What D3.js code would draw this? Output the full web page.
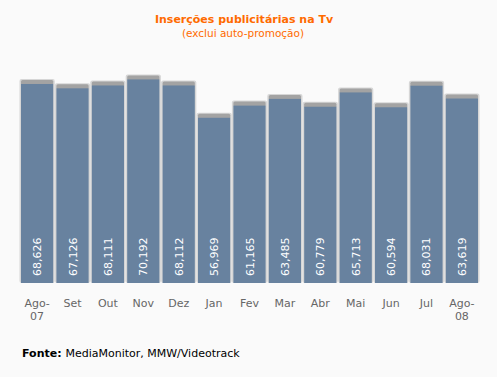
<!DOCTYPE html>
<html>
<head>
<meta charset="utf-8">
<script src="https://cdn.jsdelivr.net/npm/d3@7"></script>
<style>
  body { margin: 0; background: #fafafa; }
  svg { display: block; font-family: "DejaVu Sans", Verdana, sans-serif; }
</style>
</head>
<body>
<svg id="chart" width="497" height="377"></svg>
<script>
// Inserções publicitárias na Tv — valores mensais
const months = ["Ago-07", "Set", "Out", "Nov", "Dez", "Jan", "Fev", "Mar", "Abr", "Mai", "Jun", "Jul", "Ago-08"];
const values = [68626, 67126, 68111, 70192, 68112, 56969, 61165, 63485, 60779, 65713, 60594, 68031, 63619];

const svg = d3.select("#chart");

const x = d3.scaleBand()
  .domain(months)
  .range([20.3, 478.7])
  .paddingInner(0.09)
  .paddingOuter(0.02);

const y = d3.scaleLinear()
  .domain([0, 80000])
  .range([283, 51]);

const fmt = d3.format(",");

const g = svg.append("g");

// contorno claro à volta das barras
g.selectAll(".halo")
  .data(values)
  .enter()
  .append("rect")
  .attr("x", (d, i) => x(months[i]) - 1.5)
  .attr("y", d => y(d) - 5)
  .attr("width", x.bandwidth() + 3)
  .attr("height", d => y(0) - y(d) + 5)
  .attr("rx", 2)
  .attr("fill", "#d6d6d6");

// topo cinzento (sombra)
g.selectAll(".cap")
  .data(values)
  .enter()
  .append("rect")
  .attr("x", (d, i) => x(months[i]))
  .attr("y", d => y(d) - 4)
  .attr("width", x.bandwidth())
  .attr("height", 5)
  .attr("rx", 1.5)
  .attr("fill", "#a3a3a3");

// barras
g.selectAll(".bar")
  .data(values)
  .enter()
  .append("rect")
  .attr("class", "bar")
  .attr("x", (d, i) => x(months[i]))
  .attr("y", d => y(d))
  .attr("width", x.bandwidth())
  .attr("height", d => y(0) - y(d))
  .attr("fill", "#68829f");

// valores dentro das barras (verticais)
g.selectAll(".val")
  .data(values)
  .enter()
  .append("text")
  .attr("transform", (d, i) => `translate(${x(months[i]) + x.bandwidth() / 2 + 4},276) rotate(-90)`)
  .attr("fill", "#ffffff")
  .style("font-size", "11px")
  .text(d => fmt(d));

// eixo x
const xAxis = g.append("g")
  .attr("transform", "translate(0,290)")
  .call(d3.axisBottom(x).tickSize(0).tickFormat(""));
xAxis.select(".domain").remove();

g.selectAll(".xlab")
  .data(months)
  .enter()
  .append("text")
  .attr("x", d => x(d) + x.bandwidth() / 2)
  .attr("y", 307)
  .attr("text-anchor", "middle")
  .attr("fill", "#666")
  .style("font-size", "11px")
  .each(function (d) {
    const parts = d.includes("-") ? [d.slice(0, 4), d.slice(4)] : [d];
    d3.select(this).selectAll("tspan")
      .data(parts)
      .enter()
      .append("tspan")
      .attr("x", x(d) + x.bandwidth() / 2)
      .attr("dy", (p, j) => j === 0 ? 0 : 13)
      .text(p => p);
  });

// título
svg.append("text")
  .attr("x", 244)
  .attr("y", 23)
  .attr("text-anchor", "middle")
  .attr("fill", "#ff6a00")
  .style("font-size", "11px")
  .style("font-weight", "bold")
  .text("Inserções publicitárias na Tv");

svg.append("text")
  .attr("x", 243)
  .attr("y", 37)
  .attr("text-anchor", "middle")
  .attr("fill", "#ff6a00")
  .style("font-size", "10.5px")
  .text("(exclui auto-promoção)");

// fonte
const src = svg.append("text")
  .attr("x", 22)
  .attr("y", 357)
  .attr("fill", "#000")
  .style("font-size", "11px");
src.append("tspan").style("font-weight", "bold").text("Fonte: ");
src.append("tspan").text("MediaMonitor, MMW/Videotrack");
</script>
</body>
</html>
